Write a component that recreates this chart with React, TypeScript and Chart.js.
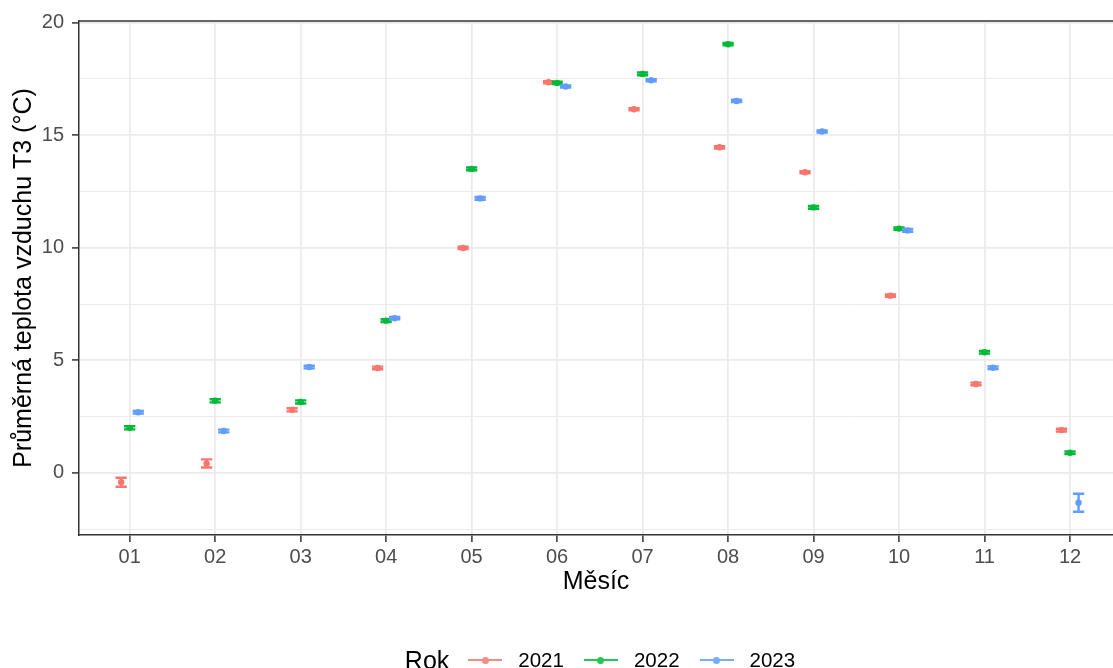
import React, { useEffect, useRef } from "react";
import { Chart, registerables } from "chart.js";

Chart.register(...registerables);

const months = ["01", "02", "03", "04", "05", "06", "07", "08", "09", "10", "11", "12"];
const years = ["2021", "2022", "2023"];
const colors = ["#F8766D", "#00BA38", "#619CFF"];
const dodge = [-0.1, 0, 0.1];

const mean2021 = [-0.42, 0.42, 2.8, 4.66, 9.99, 17.35, 16.15, 14.46, 13.35, 7.87, 3.95, 1.9];
const mean2022 = [2.0, 3.2, 3.15, 6.76, 13.5, 17.32, 17.72, 19.04, 11.79, 10.85, 5.36, 0.89];
const mean2023 = [2.69, 1.86, 4.7, 6.87, 12.19, 17.16, 17.44, 16.52, 15.16, 10.77, 4.67, -1.33];

const err2021 = [0.2, 0.18, 0.07, 0.06, 0.05, 0.05, 0.05, 0.05, 0.05, 0.05, 0.06, 0.06];
const err2022 = [0.07, 0.07, 0.07, 0.06, 0.06, 0.05, 0.06, 0.05, 0.06, 0.05, 0.06, 0.06];
const err2023 = [0.06, 0.06, 0.06, 0.05, 0.06, 0.05, 0.05, 0.05, 0.05, 0.06, 0.06, 0.4];

const yTicksMajor = [0, 5, 10, 15, 20];

const means = [mean2021, mean2022, mean2023];
const errs = [err2021, err2022, err2023];

const FONT = "'Liberation Sans', Arial, Helvetica, sans-serif";

const errorBarPlugin = {
  id: "errorBars",
  beforeDatasetsDraw(chart: any) {
    const { ctx, scales } = chart;
    const xs = scales.x;
    const ys = scales.y;
    ctx.save();
    chart.data.datasets.forEach((ds: any, di: number) => {
      ctx.strokeStyle = colors[di];
      ctx.lineWidth = 2.4;
      ctx.lineCap = "butt";
      ds.data.forEach((p: any, i: number) => {
        const e = errs[di][i];
        const x = xs.getPixelForValue(p.x);
        const xl = xs.getPixelForValue(p.x - 0.066);
        const xr = xs.getPixelForValue(p.x + 0.066);
        const yt = ys.getPixelForValue(p.y + e);
        const yb = ys.getPixelForValue(p.y - e);
        ctx.beginPath();
        ctx.moveTo(x, yt);
        ctx.lineTo(x, yb);
        ctx.moveTo(xl, yt);
        ctx.lineTo(xr, yt);
        ctx.moveTo(xl, yb);
        ctx.lineTo(xr, yb);
        ctx.stroke();
      });
    });
    ctx.restore();
  },
};

const topBorderPlugin = {
  id: "topBorder",
  afterDraw(chart: any) {
    const { ctx, chartArea } = chart;
    ctx.save();
    ctx.strokeStyle = "#333333";
    ctx.lineWidth = 1.5;
    ctx.beginPath();
    ctx.moveTo(chartArea.left, chartArea.top);
    ctx.lineTo(chartArea.right, chartArea.top);
    ctx.stroke();
    ctx.restore();
  },
};

function ChartCanvas() {
  const ref = useRef<HTMLCanvasElement>(null);
  useEffect(() => {
    if (!ref.current) return;
    const datasets = years.map((yr, di) => ({
      label: yr,
      data: means[di].map((v, i) => ({ x: i + 1 + dodge[di], y: v })),
      backgroundColor: colors[di],
      borderColor: colors[di],
      pointRadius: 3.2,
      pointBorderWidth: 0,
      showLine: false,
    }));
    const chart = new Chart(ref.current, {
      type: "scatter",
      data: { datasets },
      plugins: [errorBarPlugin, topBorderPlugin],
      options: {
        animation: false,
        responsive: false,
        maintainAspectRatio: false,
        layout: { padding: { top: 21, left: 0, right: 0, bottom: 70 } },
        plugins: {
          legend: { display: false },
          tooltip: { enabled: false },
        },
        scales: {
          x: {
            type: "linear",
            min: 0.407,
            max: 12.503,
            afterFit: (s: any) => {
              s.height = 63;
            },
            border: { display: true, color: "#333333", width: 1.5 },
            grid: {
              color: "#EBEBEB",
              lineWidth: 1.8,
              tickColor: "#333333",
              tickWidth: 1.5,
              tickLength: 7,
            },
            ticks: {
              stepSize: 1,
              includeBounds: false,
              autoSkip: false,
              maxRotation: 0,
              padding: 3,
              color: "#4D4D4D",
              font: { size: 20, family: FONT },
              callback: (v: any) => {
                const i = Math.round(Number(v)) - 1;
                return months[i] ?? "";
              },
            },
            title: {
              display: true,
              text: "Měsíc",
              color: "#000000",
              font: { size: 25, family: FONT },
              padding: { top: 0, bottom: 1 },
            },
          },
          y: {
            type: "linear",
            min: -2.76,
            max: 20.07,
            afterFit: (s: any) => {
              s.width = 79;
            },
            border: { display: true, color: "#333333", width: 1.5 },
            grid: {
              color: "#EBEBEB",
              lineWidth: (c: any) => (c.tick && yTicksMajor.includes(c.tick.value) ? 1.8 : 1.0),
              tickColor: (c: any) =>
                c.tick && yTicksMajor.includes(c.tick.value) ? "#333333" : "rgba(0,0,0,0)",
              tickWidth: 1.5,
              tickLength: 7,
            },
            ticks: {
              stepSize: 2.5,
              includeBounds: false,
              autoSkip: false,
              padding: 8,
              color: "#4D4D4D",
              font: { size: 20, family: FONT },
              callback: (v: any) => (yTicksMajor.includes(Number(v)) ? String(v) : ""),
            },
            title: {
              display: true,
              text: "Průměrná teplota vzduchu T3 (°C)",
              color: "#000000",
              font: { size: 25, family: FONT },
              padding: { top: 9, bottom: 0 },
            },
          },
        },
      } as any,
    });
    return () => chart.destroy();
  }, []);
  return <canvas ref={ref} width={1117} height={668} style={{ display: "block" }} />;
}

function Legend() {
  return (
    <div
      style={{
        position: "absolute",
        left: 0,
        top: 645,
        width: 1113,
        height: 30,
        boxSizing: "border-box",
        paddingLeft: 87,
        display: "flex",
        justifyContent: "center",
        alignItems: "center",
        fontFamily: FONT,
        color: "#000",
      }}
    >
      <span style={{ fontSize: 25, marginRight: 19 }}>Rok</span>
      {years.map((yr, i) => (
        <span key={yr} style={{ display: "flex", alignItems: "center", marginRight: i < 2 ? 20 : 0 }}>
          <span style={{ position: "relative", width: 34, height: 8, marginRight: 16, opacity: 0.85 }}>
            <span
              style={{
                position: "absolute",
                left: 0,
                top: 3,
                width: 34,
                height: 2,
                background: colors[i],
              }}
            />
            <span
              style={{
                position: "absolute",
                left: 13.5,
                top: 0.5,
                width: 7,
                height: 7,
                borderRadius: "50%",
                background: colors[i],
              }}
            />
          </span>
          <span style={{ fontSize: 20.5 }}>{yr}</span>
        </span>
      ))}
    </div>
  );
}

export default function App() {
  return (
    <div style={{ position: "absolute", left: 0, top: 0, width: 1113, height: 668, overflow: "hidden", background: "#fff" }}>
      <ChartCanvas />
      <Legend />
    </div>
  );
}
